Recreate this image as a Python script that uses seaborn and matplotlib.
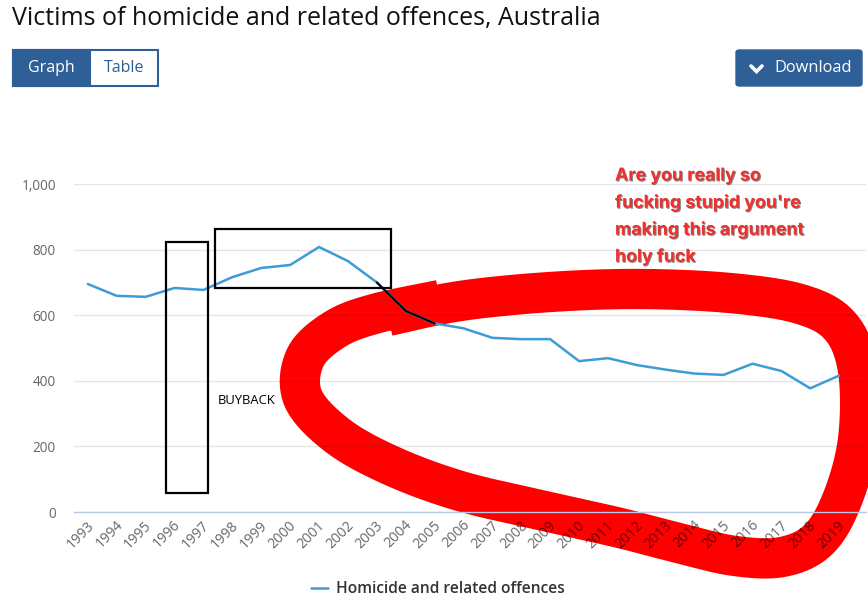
import matplotlib
matplotlib.use("Agg")
import matplotlib.pyplot as plt
import matplotlib.patheffects as pe
import matplotlib.transforms as mtransforms
from matplotlib.lines import Line2D
from matplotlib.patches import Rectangle, FancyBboxPatch
import numpy as np
import seaborn as sns
import pandas as pd

# data
years = list(range(1993, 2020))
victims = [695, 659, 656, 683, 677, 716, 744, 753, 808, 765, 700, 613, 575,
           560, 531, 527, 527, 460, 469, 448, 434, 422, 418, 452, 430, 377, 416]
series_name = "Homicide and related offences"
y_ticks = [0, 200, 400, 600, 800, 1000]

df = pd.DataFrame({"year": years, "victims": victims, "series": series_name})

sns.set_theme(style="white")
plt.rcParams["font.family"] = ["Open Sans", "DejaVu Sans"]

W, H = 868, 604
fig = plt.figure(figsize=(W / 100, H / 100), dpi=100)


def fx(x):
    return x / W


def fy(y):
    return 1 - y / H


def smooth(points, n=20):
    # catmull-rom through the hand-drawn control points
    p = np.array(points, dtype=float)
    p = np.vstack([p[0], p, p[-1]])
    out = []
    for i in range(1, len(p) - 2):
        p0, p1, p2, p3 = p[i - 1], p[i], p[i + 1], p[i + 2]
        for t in np.linspace(0, 1, n, endpoint=False):
            t2, t3 = t * t, t * t * t
            out.append(0.5 * (2 * p1 + (-p0 + p2) * t
                              + (2 * p0 - 5 * p1 + 4 * p2 - p3) * t2
                              + (-p0 + 3 * p1 - 3 * p2 + p3) * t3))
    out.append(p[-2])
    return np.array(out)


# plot area in pixels: x 74..866, y 184..512
ax = fig.add_axes([fx(74), fy(512), fx(866) - fx(74), fy(184) - fy(512)])
ax.set_axisbelow(True)

line_blue = "#3d9cd6"
sns.lineplot(data=df, x="year", y="victims", color=line_blue, linewidth=1.8,
             ax=ax, legend=False, zorder=2)

# black trace drawn over the scribble
trace = df[(df["year"] >= 2003) & (df["year"] <= 2005)]
sns.lineplot(data=trace, x="year", y="victims", color="black", linewidth=1.5,
             ax=ax, legend=False, zorder=3)

ax.set_xlim(1992.52, 2019.93)
ax.set_ylim(0, 1000)
ax.set_yticks(y_ticks)
ax.set_yticklabels([f"{v:,}" for v in y_ticks])
ax.set_xticks(years)
ax.set_xticklabels([str(y) for y in years], rotation=45, ha="right",
                   va="center", rotation_mode="anchor")
ax.set_xlabel("")
ax.set_ylabel("")
ax.grid(axis="y", color="black", alpha=0.1, linewidth=1)
ax.grid(axis="x", visible=False)
for side in ["top", "right", "left"]:
    ax.spines[side].set_visible(False)
ax.spines["bottom"].set_color("#b9c8e6")
ax.spines["bottom"].set_linewidth(1)
ax.tick_params(axis="y", length=0, pad=13, labelsize=9.8,
               labelcolor=(0, 0, 0, 0.6))
ax.tick_params(axis="x", length=0, pad=8, labelsize=10.2,
               labelcolor=(0, 0, 0, 0.6))
shift = mtransforms.ScaledTranslation(4 / 100, 0, fig.dpi_scale_trans)
for lab in ax.get_xticklabels():
    lab.set_transform(lab.get_transform() + shift)

# red scribble (drawn under axis labels / grid, like a multiply layer)
scribble = [(388, 316), (460, 301), (550, 292), (640, 289), (730, 293),
            (800, 304), (840, 326), (858, 370), (858, 440), (842, 500),
            (818, 540), (782, 557), (735, 556), (682, 544), (620, 528),
            (540, 510), (460, 491), (392, 466), (338, 436), (303, 398),
            (305, 358), (334, 330), (374, 314), (440, 300)]
sc = smooth(scribble)
ax.add_artist(Line2D(sc[:, 0] / W, 1 - sc[:, 1] / H,
                     transform=fig.transFigure, color="#ff0000", linewidth=29,
                     solid_joinstyle="round", solid_capstyle="butt",
                     clip_on=False, zorder=0.3))

# black hand-drawn boxes
fig.add_artist(Rectangle((fx(166), fy(493)), fx(208) - fx(166), fy(242) - fy(493),
                         transform=fig.transFigure, fill=False,
                         edgecolor="black", linewidth=1.6))
fig.add_artist(Rectangle((fx(215), fy(288)), fx(391) - fx(215), fy(229) - fy(288),
                         transform=fig.transFigure, fill=False,
                         edgecolor="black", linewidth=1.6))
fig.text(fx(218), fy(400), "BUYBACK", fontsize=9.4, color="black",
         ha="left", va="center")

# red comment
comment = ["Are you really so", "fucking stupid you're",
           "making this argument", "holy fuck"]
for i, line in enumerate(comment):
    fig.text(fx(615), fy(176 + 27 * i), line, fontsize=12.8, color="#f0302e",
             fontweight="bold", family=["Inter", "DejaVu Sans"],
             ha="left", va="center",
             path_effects=[pe.SimplePatchShadow(offset=(0.7, -0.7),
                                                shadow_rgbFace="#333333",
                                                alpha=0.6),
                           pe.Normal()])

# title and buttons
fig.text(fx(12), fy(18), "Victims of homicide and related offences, Australia",
         fontsize=18, color="#111111", ha="left", va="center")

btn_blue = "#2f5f97"
fig.add_artist(Rectangle((fx(13), fy(86)), fx(158) - fx(13), fy(50) - fy(86),
                         transform=fig.transFigure, facecolor="white",
                         edgecolor=btn_blue, linewidth=1.5))
fig.add_artist(Rectangle((fx(13), fy(86)), fx(90) - fx(13), fy(50) - fy(86),
                         transform=fig.transFigure, facecolor=btn_blue,
                         edgecolor=btn_blue, linewidth=1.5))
fig.text(fx(51), fy(68), "Graph", fontsize=11.5, color="white",
         ha="center", va="center")
fig.text(fx(124), fy(68), "Table", fontsize=11.5, color=btn_blue,
         ha="center", va="center")

fig.add_artist(FancyBboxPatch((fx(736), fy(86)), fx(862) - fx(736), fy(50) - fy(86),
                              boxstyle="round,pad=0,rounding_size=0.004",
                              transform=fig.transFigure, facecolor=btn_blue,
                              edgecolor=btn_blue, linewidth=1))
fig.add_artist(Line2D([fx(751), fx(756.5), fx(762)], [fy(66), fy(71.5), fy(66)],
                      transform=fig.transFigure, color="white", linewidth=2.6,
                      solid_capstyle="round", solid_joinstyle="miter"))
fig.text(fx(774), fy(68), "Download", fontsize=11.8, color="white",
         ha="left", va="center")

# legend
handle = Line2D([], [], color=line_blue, linewidth=1.8)
fig.legend([handle], [series_name], loc="center", frameon=False,
           bbox_to_anchor=(fx(438), fy(589)), handlelength=1.1,
           handletextpad=0.5, prop={"size": 11.2, "weight": "semibold"},
           labelcolor="#333333")

fig.savefig("out.png", dpi=100)
